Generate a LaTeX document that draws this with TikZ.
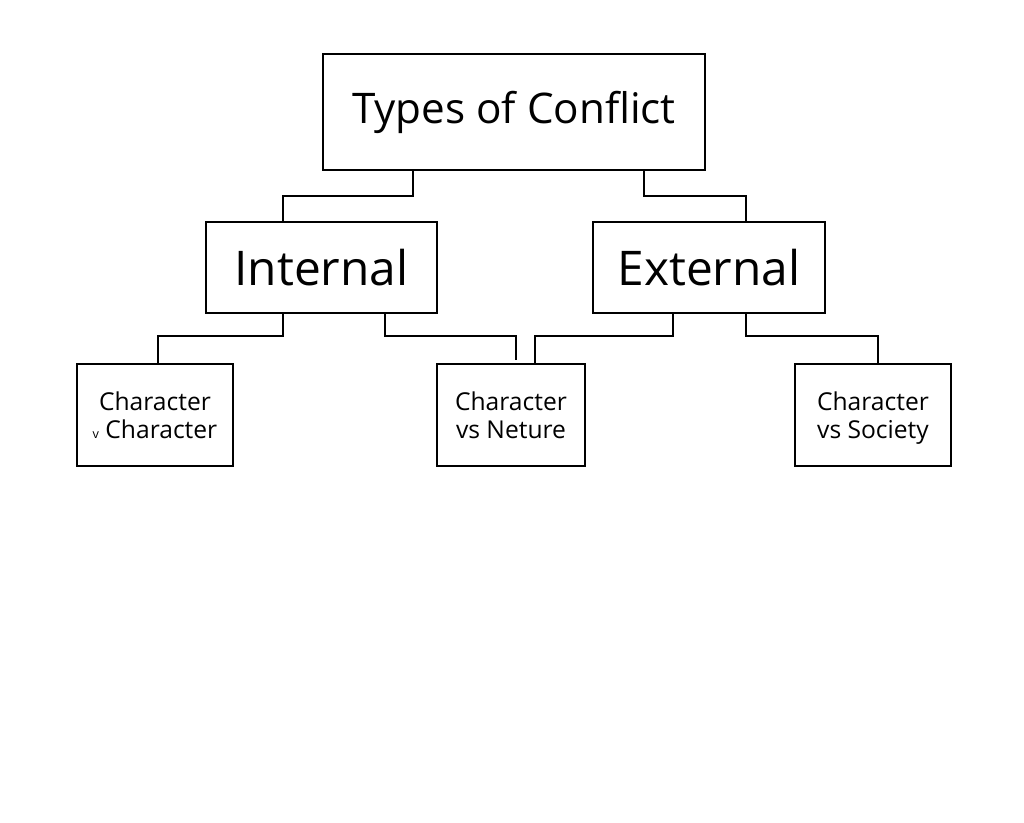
\documentclass[tikz,border=0pt]{standalone}
\usepackage{fontspec}
\setmainfont{Open Sans}
\begin{document}
\begin{tikzpicture}[x=0.025cm,y=-0.025cm,
 box/.style={draw,line width=1.3pt,inner sep=0pt},
 ln/.style={line width=1.3pt}]
\useasboundingbox (0,0) rectangle (1024,822);
\node[box,minimum width=382*0.025cm,minimum height=116*0.025cm,font=\fontsize{30}{34}\selectfont] (t) at (514,112) {Types of Conflict};
\node[box,minimum width=231*0.025cm,minimum height=91*0.025cm,font=\fontsize{34}{38}\selectfont] (i) at (321.5,267.5) {Internal};
\node[box,minimum width=232*0.025cm,minimum height=91*0.025cm,font=\fontsize{34}{38}\selectfont] (e) at (709,267.5) {External};
\tikzset{small/.style={box,minimum width=156*0.025cm,minimum height=102*0.025cm,align=center,font=\fontsize{17.5}{19.5}\selectfont,text depth=-0.15cm}}
\node[small] (a) at (155,415) {Character\strut\\{\fontsize{9}{10}\selectfont v} Character\strut};
\node[small,minimum width=148*0.025cm] (b) at (511,415) {Character\strut\\vs Neture\strut};
\node[small] (c) at (873,415) {Character\strut\\vs Society\strut};
\draw[ln] (t.south -| 413,0) |- (283,196) -- (i.north -| 283,0);
\draw[ln] (t.south -| 644,0) |- (746,196) -- (e.north -| 746,0);
\draw[ln] (i.south -| 283,0) |- (158,336) -- (a.north -| 158,0);
\draw[ln] (i.south -| 385,0) |- (516,336) -- (516,360);
\draw[ln] (e.south -| 673,0) |- (535,336) -- (b.north -| 535,0);
\draw[ln] (e.south -| 746,0) |- (878,336) -- (c.north -| 878,0);
\end{tikzpicture}
\end{document}
